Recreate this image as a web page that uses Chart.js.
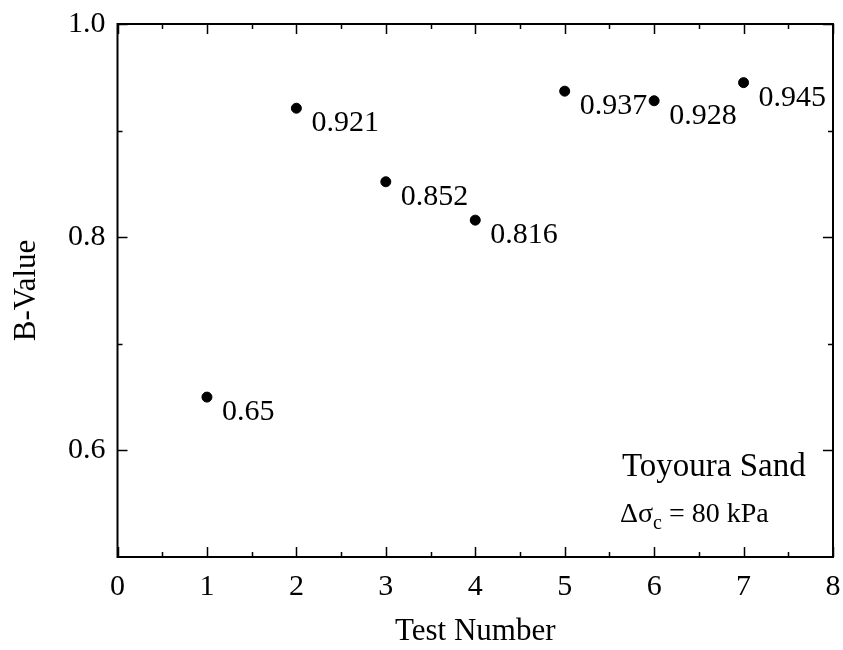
<!DOCTYPE html>
<html>
<head>
<meta charset="utf-8">
<script src="https://cdn.jsdelivr.net/npm/chart.js@4.4.1/dist/chart.umd.min.js"></script>
<style>
  body { margin: 0; background: #fff; }
  #wrap { width: 843px; height: 650px; }
</style>
</head>
<body>
<div id="wrap"><canvas id="bChart"></canvas></div>
<script>
// data
const testNumbers = [1, 2, 3, 4, 5, 6, 7];
const bValues = [0.65, 0.921, 0.852, 0.816, 0.937, 0.928, 0.945];
const pointLabels = ["0.65", "0.921", "0.852", "0.816", "0.937", "0.928", "0.945"];

// axes
const xMajor = [0, 1, 2, 3, 4, 5, 6, 7, 8];
const xMinor = [0.5, 1.5, 2.5, 3.5, 4.5, 5.5, 6.5, 7.5];
const yMajor = [0.6, 0.8, 1.0];
const yMinor = [0.7, 0.9];

const serif = "'Liberation Serif', 'Times New Roman', serif";
Chart.defaults.font.family = serif;
Chart.defaults.color = "#000";

// frame + inward ticks on all four sides
const framePlugin = {
    id: "frame",
    afterDraw(chart) {
        const ctx = chart.ctx;
        const a = chart.chartArea;
        const xs = chart.scales.x, ys = chart.scales.y;
        ctx.save();
        ctx.strokeStyle = "#000";
        ctx.lineWidth = 2;
        ctx.strokeRect(a.left, a.top, a.right - a.left, a.bottom - a.top);
        ctx.lineWidth = 1.5;
        ctx.beginPath();
        const xt = (vals, len) => vals.forEach(v => {
            let px = Math.round(xs.getPixelForValue(v)) + 0.5;
            ctx.moveTo(px, a.bottom); ctx.lineTo(px, a.bottom - len);
            ctx.moveTo(px, a.top); ctx.lineTo(px, a.top + len);
        });
        const yt = (vals, len) => vals.forEach(v => {
            let py = Math.round(ys.getPixelForValue(v)) + 0.5;
            ctx.moveTo(a.left, py); ctx.lineTo(a.left + len, py);
            ctx.moveTo(a.right, py); ctx.lineTo(a.right - len, py);
        });
        xt(xMajor, 10); xt(xMinor, 5);
        yt(yMajor, 10); yt(yMinor, 5);
        ctx.stroke();

        // value labels next to each point
        ctx.fillStyle = "#000";
        ctx.font = "30px " + serif;
        ctx.textBaseline = "alphabetic";
        ctx.textAlign = "left";
        const meta = chart.getDatasetMeta(0);
        meta.data.forEach((pt, i) => {
            ctx.fillText(pointLabels[i], pt.x + 15, pt.y + 23);
        });

        // annotation
        let tx = xs.getPixelForValue(5.64);
        ctx.font = "33px " + serif;
        ctx.fillText("Toyoura Sand", tx, 476);
        ctx.font = "28px " + serif;
        let s1 = "\u0394\u03c3";
        ctx.fillText(s1, tx - 2, 522);
        let w1 = ctx.measureText(s1).width;
        ctx.font = "20px " + serif;
        ctx.fillText("c", tx - 2 + w1, 529);
        let w2 = ctx.measureText("c").width;
        ctx.font = "28px " + serif;
        ctx.fillText(" = 80 kPa", tx - 2 + w1 + w2, 522);
        ctx.restore();
    }
};

new Chart(document.getElementById("bChart"), {
    type: "scatter",
    data: {
        datasets: [{
            data: testNumbers.map((x, i) => ({ x: x, y: bValues[i] })),
            backgroundColor: "#000",
            borderColor: "#000",
            pointRadius: 5,
            pointHoverRadius: 5
        }]
    },
    options: {
        responsive: true,
        maintainAspectRatio: false,
        animation: false,
        layout: { padding: { top: 24, right: 10, left: 0, bottom: 0 } },
        plugins: { legend: { display: false }, tooltip: { enabled: false } },
        scales: {
            x: {
                type: "linear",
                min: 0, max: 8,
                grid: { display: false, drawTicks: false },
                border: { display: false },
                afterBuildTicks: s => { s.ticks = xMajor.map(v => ({ value: v })); },
                afterFit: s => { s.height = 93; s.paddingLeft = 0; s.paddingRight = 0; },
                ticks: { font: { size: 30 }, padding: 12, maxRotation: 0 },
                title: { display: true, text: "Test Number", font: { size: 31 }, padding: { top: 0, bottom: 0 } }
            },
            y: {
                type: "linear",
                min: 0.5, max: 1.0,
                grid: { display: false, drawTicks: false },
                border: { display: false },
                afterBuildTicks: s => { s.ticks = yMajor.map(v => ({ value: v })); },
                afterFit: s => { s.width = 117.5; s.paddingTop = 0; s.paddingBottom = 0; },
                ticks: { font: { size: 30 }, padding: 12, callback: v => v.toFixed(1) },
                title: { display: true, text: "B-Value", font: { size: 31 }, padding: { top: 8, bottom: 0 } }
            }
        }
    },
    plugins: [framePlugin]
});
</script>
</body>
</html>
